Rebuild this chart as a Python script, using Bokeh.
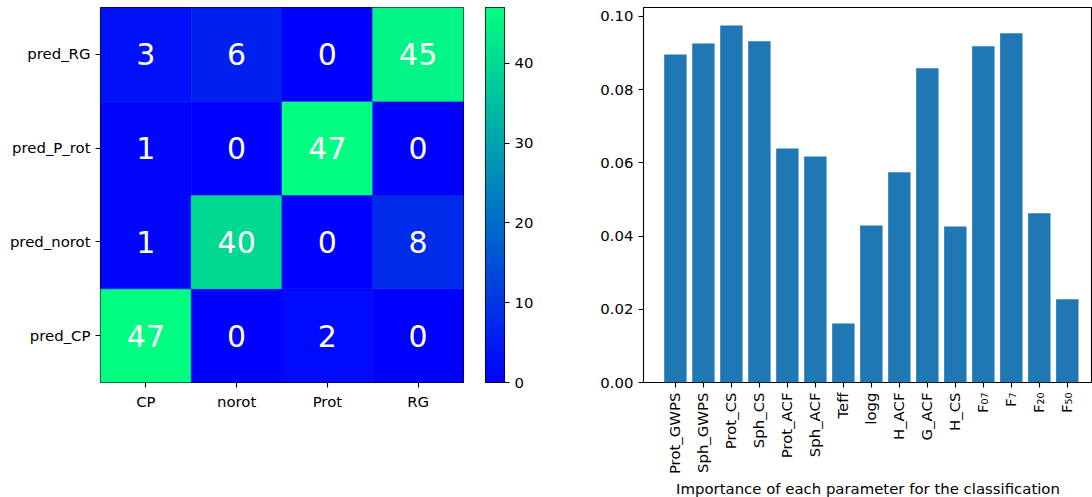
import numpy as np
from bokeh.plotting import figure
from bokeh.layouts import row
from bokeh.models import (FactorRange, Range1d, FixedTicker, LinearColorMapper,
                          ColumnDataSource, Title, PrintfTickFormatter)
from bokeh.transform import linear_cmap
from bokeh.core.properties import value
from bokeh.embed import file_html
from bokeh.resources import INLINE

# ---------------- data ----------------
true_classes = ["CP", "norot", "Prot", "RG"]
pred_classes = ["pred_CP", "pred_norot", "pred_P_rot", "pred_RG"]
# each list: counts for one predicted class, across true_classes
counts_pred_CP = [47, 0, 2, 0]
counts_pred_norot = [1, 40, 0, 8]
counts_pred_P_rot = [1, 0, 47, 0]
counts_pred_RG = [3, 6, 0, 45]
colorbar_ticks = [0, 10, 20, 30, 40]
colorbar_low = 0
colorbar_high = 47

param_labels = ["Prot_GWPS", "Sph_GWPS", "Prot_CS", "Sph_CS", "Prot_ACF", "Sph_ACF",
                "Teff", "logg", "H_ACF", "G_ACF", "H_CS", "F₀₇", "F₇", "F₂₀", "F₅₀"]
importances = [0.0896, 0.0926, 0.0975, 0.0932, 0.0639, 0.0617,
               0.0161, 0.0429, 0.0574, 0.0858, 0.0426, 0.0918, 0.0954, 0.0462, 0.0227]
importance_ticks = [0.00, 0.02, 0.04, 0.06, 0.08, 0.10]
xlabel = "Importance of each parameter for the classification"

# ---------------- style ----------------
FONT = "DejaVu Sans"
FS = "14.9px"
t = np.linspace(0, 1, 256)
winter = ["#%02x%02x%02x" % (0, int(round(g * 255)), int(round((1 - 0.5 * g) * 255))) for g in t]
H = 497


def style_axis(ax):
    ax.axis_line_color = "black"
    ax.axis_line_width = 1.1
    ax.major_tick_line_color = "black"
    ax.major_tick_line_width = 1.1
    ax.major_tick_out = 5
    ax.major_tick_in = 0
    ax.minor_tick_line_color = None
    ax.major_label_text_font = FONT
    ax.major_label_text_font_size = FS
    ax.major_label_text_color = "black"
    ax.major_label_standoff = 5


# ---------------- confusion matrix ----------------
rows = [counts_pred_CP, counts_pred_norot, counts_pred_P_rot, counts_pred_RG]
xs, ys, vals = [], [], []
for pc, r in zip(pred_classes, rows):
    for tc, v in zip(true_classes, r):
        xs.append(tc)
        ys.append(pc)
        vals.append(v)
src = ColumnDataSource(dict(x=xs, y=ys, v=vals, lab=[str(v) for v in vals]))

p1 = figure(x_range=FactorRange(*true_classes), y_range=FactorRange(*pred_classes),
            width=470, height=H, min_border_left=100, min_border_right=7,
            min_border_top=7, min_border_bottom=H - 7 - 375,
            output_backend="svg", toolbar_location=None, tools="")
cmap = linear_cmap("v", winter, colorbar_low, colorbar_high)
p1.rect(x="x", y="y", width=1, height=1, source=src, fill_color=cmap,
        line_color=cmap, line_width=0.6)
p1.text(x="x", y="y", text="lab", source=src, text_color="white",
        text_align="center", text_baseline="middle",
        text_font=value(FONT), text_font_size="30px")
p1.xgrid.grid_line_color = None
p1.ygrid.grid_line_color = None
p1.outline_line_color = "black"
p1.outline_line_width = 1.1
style_axis(p1.xaxis[0])
style_axis(p1.yaxis[0])
p1.xaxis.axis_line_color = None
p1.yaxis.axis_line_color = None

# ---------------- colorbar ----------------
mapper = LinearColorMapper(palette=winter, low=colorbar_low, high=colorbar_high)
grad = np.linspace(colorbar_low, colorbar_high, 256).reshape(256, 1)
p_cb = figure(x_range=Range1d(0, 1), y_range=Range1d(colorbar_low, colorbar_high),
              width=90, height=H, min_border_left=15, min_border_right=56,
              min_border_top=7, min_border_bottom=H - 7 - 375,
              x_axis_location=None, y_axis_location="right",
              output_backend="svg", toolbar_location=None, tools="")
p_cb.image(image=[grad], x=0, y=colorbar_low, dw=1, dh=colorbar_high - colorbar_low,
           color_mapper=mapper)
p_cb.xgrid.grid_line_color = None
p_cb.ygrid.grid_line_color = None
p_cb.outline_line_color = "black"
p_cb.outline_line_width = 1.1
style_axis(p_cb.yaxis[0])
p_cb.yaxis.axis_line_color = None
p_cb.yaxis.ticker = FixedTicker(ticks=colorbar_ticks)

# ---------------- bar chart ----------------
xidx = list(range(len(param_labels)))
p2 = figure(x_range=Range1d(-1.14, 14.90), y_range=Range1d(0, 0.1024),
            width=532, height=H, min_border_left=83, min_border_right=0,
            min_border_top=6, min_border_bottom=H - 6 - 376,
            output_backend="svg", toolbar_location=None, tools="")
p2.vbar(x=xidx, top=importances, width=0.8, fill_color="#1f77b4", line_color=None)
p2.xgrid.grid_line_color = None
p2.ygrid.grid_line_color = None
p2.outline_line_color = "black"
p2.outline_line_width = 1.1
style_axis(p2.xaxis[0])
style_axis(p2.yaxis[0])
p2.xaxis.axis_line_color = None
p2.yaxis.axis_line_color = None
p2.xaxis.ticker = FixedTicker(ticks=xidx)
p2.xaxis.major_label_overrides = {i: lab for i, lab in zip(xidx, param_labels)}
p2.xaxis.major_label_orientation = np.pi / 2
p2.yaxis.ticker = FixedTicker(ticks=importance_ticks)
p2.yaxis.formatter = PrintfTickFormatter(format="%.2f")

p2.add_layout(Title(text=xlabel, align="center", text_font=FONT,
                    text_font_size=FS, text_font_style="normal", text_color="black",
                    standoff=0), "below")

layout = row(p1, p_cb, p2)
open("out.html", "w").write(file_html(layout, INLINE))
